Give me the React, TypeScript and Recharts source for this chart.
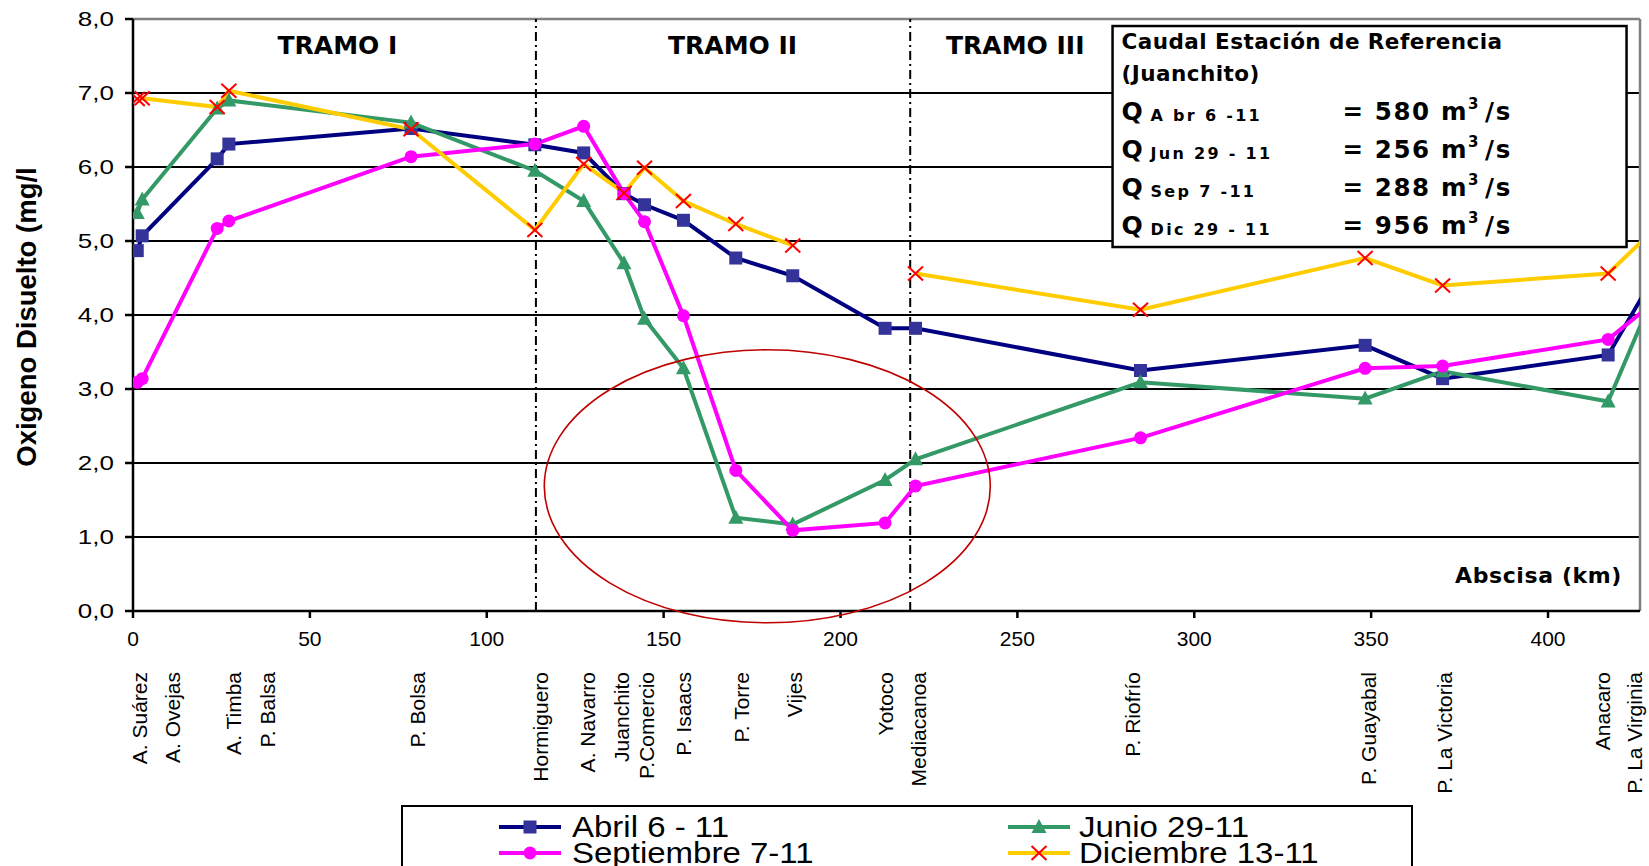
import React from "react";
import {
  LineChart,
  Line,
  XAxis,
  YAxis,
  CartesianGrid,
  ReferenceLine,
  ReferenceDot,
  Legend,
} from "recharts";

// abscisa (km) of each sampling point
const km = [1.2, 2.6, 23.8, 27.1, 78.6, 113.6, 127.4, 138.8, 144.6, 155.6, 170.4, 186.5, 212.6, 221.2, 284.8, 348.3, 370.2, 417.0, 432];
const abril = [4.87, 5.07, 6.11, 6.31, 6.52, 6.3, 6.19, 5.64, 5.49, 5.28, 4.77, 4.53, 3.82, 3.82, 3.25, 3.59, 3.14, 3.46, 4.69];
const junio = [5.38, 5.56, 6.79, 6.9, 6.6, 5.95, 5.54, 4.7, 3.95, 3.28, 1.26, 1.17, 1.77, 2.05, 3.09, 2.87, 3.24, 2.83, 4.52];
const septiembre = [3.09, 3.14, 5.17, 5.27, 6.14, 6.31, 6.55, 5.64, 5.26, 3.99, 1.9, 1.09, 1.19, 1.69, 2.34, 3.28, 3.31, 3.67, 4.25];
const diciembre = [6.92, 6.93, 6.81, 7.03, 6.51, 5.15, 6.04, 5.65, 5.99, 5.54, 5.23, 4.94, null, 4.56, 4.07, 4.77, 4.4, 4.56, 5.25];

const seriesNames = ["Abril 6 - 11", "Junio 29-11", "Septiembre 7-11", "Diciembre 13-11"];

const stationNames = [
  "A. Suárez", "A. Ovejas", "A. Timba", "P. Balsa", "P. Bolsa", "Hormiguero", "A. Navarro",
  "Juanchito", "P.Comercio", "P. Isaacs", "P. Torre", "Vijes", "Yotoco", "Mediacanoa",
  "P. Riofrío", "P. Guayabal", "P. La Victoria", "Anacaro", "P. La Virginia",
];
const stationKm = [1.9, 11.1, 28.4, 37.9, 80.4, 115.3, 128.6, 138.2, 145.2, 155.6, 172.0, 187.0, 212.7, 221.9, 282.6, 349.2, 370.6, 415.5, 424.4];

const xTicks = [0, 50, 100, 150, 200, 250, 300, 350, 400];
const yTicks = [0, 1, 2, 3, 4, 5, 6, 7, 8];
const tramoLimits = [113.9, 219.7];
const tramos = [
  { name: "TRAMO I", km: 57.8 },
  { name: "TRAMO II", km: 169.5 },
  { name: "TRAMO III", km: 249.4 },
];

const boxTitle = ["Caudal Estación de Referencia", "(Juanchito)"];
const caudalLabels = ["A br 6 -11", "Jun 29 - 11", "Sep 7 -11", "Dic 29 - 11"];
const caudalValues = [580, 256, 288, 956];

const data = km.map((k, i) => ({
  km: k,
  abril: abril[i],
  junio: junio[i],
  septiembre: septiembre[i],
  diciembre: diciembre[i],
}));

const ARIAL = "'Liberation Sans', Arial, sans-serif";
const VERD = "'DejaVu Sans', Verdana, sans-serif";

const NAVY = "#000080";
const GREEN = "#339966";
const MAGENTA = "#FF00FF";
const YELLOW = "#FFCC00";

function marker(kind: string, cx: number, cy: number, key?: any) {
  if (kind === "square")
    return <rect key={key} x={cx - 6.5} y={cy - 6.5} width={13} height={13} fill="#333399" />;
  if (kind === "triangle")
    return (
      <polygon key={key} points={`${cx},${cy - 8} ${cx - 7.5},${cy + 6} ${cx + 7.5},${cy + 6}`} fill={GREEN} />
    );
  if (kind === "circle") return <circle key={key} cx={cx} cy={cy} r={6.5} fill={MAGENTA} />;
  return (
    <g key={key} stroke="#FF0000" strokeWidth={2}>
      <line x1={cx - 7.5} y1={cy - 7} x2={cx + 7.5} y2={cy + 7} />
      <line x1={cx - 7.5} y1={cy + 7} x2={cx + 7.5} y2={cy - 7} />
    </g>
  );
}

const dotFor = (kind: string) => (p: any) => {
  if (p.cy == null || p.value == null) return <g key={`e-${p.index}`} />;
  return marker(kind, p.cx, p.cy, `${kind}-${p.index}`);
};

const series = [
  { key: "abril", color: NAVY, kind: "square" },
  { key: "junio", color: GREEN, kind: "triangle" },
  { key: "septiembre", color: MAGENTA, kind: "circle" },
  { key: "diciembre", color: YELLOW, kind: "x" },
];

const StationTick = (p: any) => {
  const i = stationKm.indexOf(p.payload.value);
  return (
    <text
      transform={`translate(${p.x},${p.y}) rotate(-90)`}
      textAnchor="end"
      dy="0.36em"
      fontFamily={ARIAL}
      fontSize={21}
      fill="#000"
    >
      {stationNames[i]}
    </text>
  );
};

const YTick = (p: any) => (
  <text
    transform={`translate(${p.x},${p.y}) scale(1.3,1)`}
    textAnchor="end"
    dy="0.36em"
    fontFamily={ARIAL}
    fontSize={20}
    fill="#000"
  >
    {Number(p.payload.value).toFixed(1).replace(".", ",")}
  </text>
);

const LegendBox = () => {
  const cols = [98, 607];
  const rows = [22, 48];
  const order = [0, 1, 2, 3];
  return (
    <div
      style={{
        position: "relative",
        width: 1012,
        height: 80,
        border: "2px solid #000",
        background: "#fff",
        boxSizing: "border-box",
      }}
    >
      {order.map((s) => {
        const col = s % 2;
        const row = Math.floor(s / 2);
        const it = series[s];
        return (
          <div
            key={s}
            style={{
              position: "absolute",
              left: cols[col] - 2,
              top: rows[row] - 2 - 17,
              height: 34,
              display: "flex",
              alignItems: "center",
            }}
          >
            <svg width={62} height={20}>
              <line x1={0} y1={10} x2={62} y2={10} stroke={it.color} strokeWidth={4} />
              {marker(it.kind, 31, 10)}
            </svg>
            <span
              style={{
                marginLeft: col === 0 ? 11 : 9,
                fontFamily: ARIAL,
                fontSize: 30,
                lineHeight: "30px",
                color: "#000",
                whiteSpace: "nowrap",
                display: "inline-block",
                transform: "scaleX(1.1)",
                transformOrigin: "left center",
              }}
            >
              {seriesNames[s]}
            </span>
          </div>
        );
      })}
    </div>
  );
};

const TramoText = (label: string) => (p: any) => (
  <text x={p.cx} y={p.cy} textAnchor="middle" fontFamily={VERD} fontWeight="bold" fontSize={25} fill="#000">
    {label}
  </text>
);

const Ellipse = (p: any) => (
  <ellipse cx={p.cx} cy={p.cy} rx={223} ry={136.5} fill="none" stroke="#C00000" strokeWidth={1.6} />
);

const AbscisaText = (p: any) => (
  <text
    x={p.cx}
    y={p.cy}
    textAnchor="end"
    fontFamily={VERD}
    fontWeight="bold"
    fontSize={22}
    letterSpacing={0.6}
    fill="#000"
  >
    Abscisa (km)
  </text>
);

const CaudalBox = (p: any) => (
  <g transform={`translate(${p.cx},${p.cy})`} fontFamily={VERD} fontWeight="bold" fill="#000">
    <rect x={0} y={0} width={514} height={221} fill="#fff" stroke="#000" strokeWidth={2.5} />
    <text x={9} y={22.5} fontSize={21.5} letterSpacing={0.45}>{boxTitle[0]}</text>
    <text x={9} y={55} fontSize={21.5} letterSpacing={0.45}>{boxTitle[1]}</text>
    {caudalLabels.map((lab, i) => {
      const by = 93.5 + i * 38.2;
      return (
        <g key={i}>
          <text x={9} y={by} fontSize={25}>Q</text>
          <text x={38} y={by + 1} fontSize={16} letterSpacing={2.3}>{lab}</text>
          <text x={230} y={by} fontSize={24.5} letterSpacing={1.6}>
            = {caudalValues[i]} m
            <tspan dy={-11} fontSize={15}>3</tspan>
            <tspan dy={11} dx={5}>/s</tspan>
          </text>
        </g>
      );
    })}
  </g>
);

const YTitle = (p: any) => {
  const vb = p.viewBox || { x: 13, y: 19, height: 592 };
  const cx = vb.x + 13;
  const cy = vb.y + vb.height / 2 + 2;
  return (
    <text
      transform={`translate(${cx},${cy}) rotate(-90)`}
      textAnchor="middle"
      dy="0.36em"
      fontFamily={ARIAL}
      fontWeight="bold"
      fontSize={27.5}
      fill="#000"
    >
      Oxigeno Disuelto (mg/l
    </text>
  );
};

export default function App() {
  return (
    <div
      style={{
        position: "absolute",
        left: 0,
        top: 0,
        width: 1649,
        height: 866,
        overflow: "hidden",
        background: "#fff",
      }}
    >
      <LineChart
        width={1649}
        height={866}
        data={data}
        margin={{ top: 19, right: 9, left: 13, bottom: 59 }}
      >
        <CartesianGrid vertical={false} stroke="#000" strokeWidth={2} />
        <XAxis
          dataKey="km"
          type="number"
          domain={[0, 426]}
          allowDataOverflow
          ticks={xTicks}
          interval={0}
          height={56}
          tickSize={7}
          tickMargin={13}
          stroke="#000"
          strokeWidth={2.5}
          tick={{ fill: "#000", fontSize: 21, fontFamily: ARIAL }}
        />
        <XAxis
          xAxisId="st"
          dataKey="km"
          type="number"
          domain={[0, 426]}
          allowDataOverflow
          ticks={stationKm}
          interval={0}
          height={140}
          axisLine={false}
          tickLine={false}
          tickSize={0}
          tickMargin={5}
          tick={<StationTick />}
        />
        <YAxis
          type="number"
          domain={[0, 8]}
          ticks={yTicks}
          interval={0}
          width={120}
          tickSize={8}
          tickMargin={11}
          stroke="#000"
          strokeWidth={2.5}
          tick={<YTick />}
          label={{ content: YTitle }}
        />
        <ReferenceLine y={8} stroke="#808080" strokeWidth={2.5} />
        <ReferenceLine x={426} stroke="#808080" strokeWidth={2.5} />
        {tramoLimits.map((t) => (
          <ReferenceLine key={t} x={t} stroke="#000" strokeWidth={2} strokeDasharray="9 4 2 4" />
        ))}
        {tramos.map((t) => (
          <ReferenceDot key={t.name} x={t.km} y={7.53} r={0} ifOverflow="visible" shape={TramoText(t.name)} />
        ))}
        {series.map((s, i) => (
          <Line
            key={s.key}
            dataKey={s.key}
            name={seriesNames[i]}
            stroke={s.color}
            strokeWidth={4}
            dot={dotFor(s.kind)}
            activeDot={false}
            connectNulls={false}
            isAnimationActive={false}
            type="linear"
          />
        ))}
        <ReferenceDot x={179.3} y={1.685} r={0} ifOverflow="visible" shape={Ellipse} />
        <ReferenceDot x={420.9} y={0.378} r={0} ifOverflow="visible" shape={AbscisaText} />
        <ReferenceDot x={276.9} y={7.905} r={0} ifOverflow="visible" shape={CaudalBox} />
        <Legend
          layout="horizontal"
          verticalAlign="middle"
          align="center"
          wrapperStyle={{ left: 401, top: 805, width: 1012, height: 80 }}
          content={() => <LegendBox />}
        />
      </LineChart>
    </div>
  );
}
